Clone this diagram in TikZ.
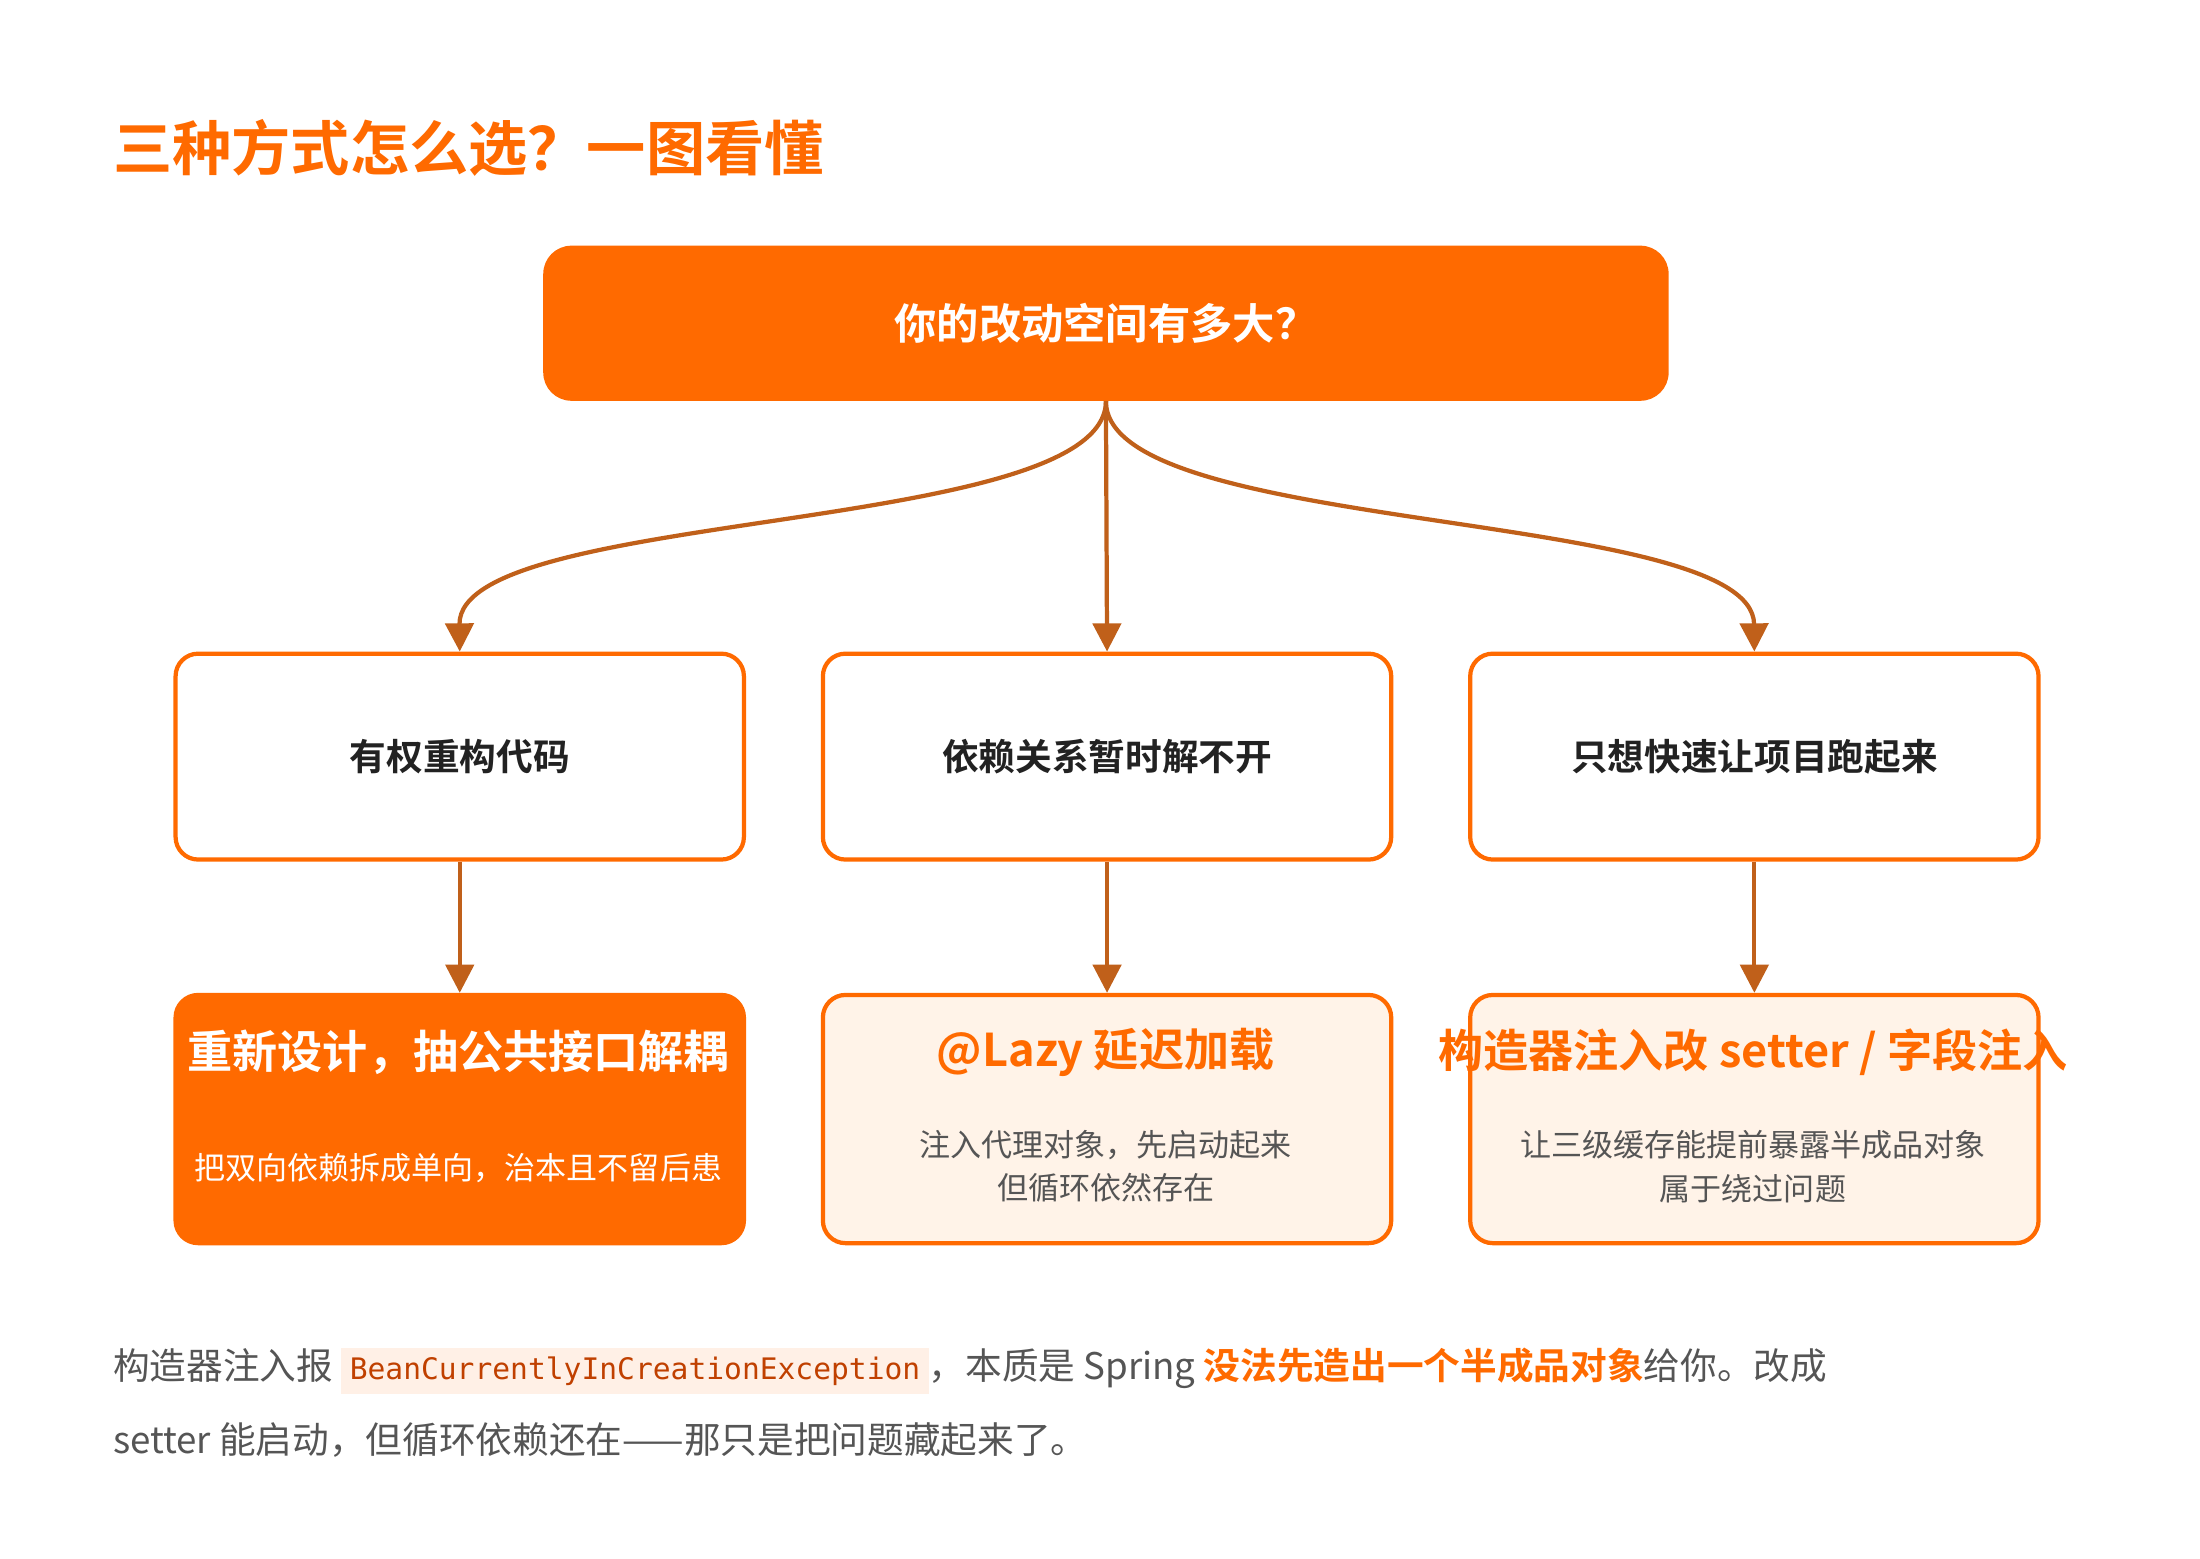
\documentclass[tikz,border=0pt]{standalone}
\usepackage{fontspec}
\setmainfont{Noto Sans CJK SC}
\newfontfamily\cjkb{Noto Sans CJK SC Bold}
\setmonofont{DejaVu Sans Mono}
\usetikzlibrary{arrows.meta}
\definecolor{org}{HTML}{FF6A00}
\definecolor{arr}{HTML}{C0601A}
\definecolor{pale}{HTML}{FFF3E8}
\definecolor{txt}{HTML}{222222}
\definecolor{gr}{HTML}{555555}
\definecolor{codebg}{HTML}{FFF0E6}
\definecolor{codefg}{HTML}{C04000}
\begin{document}
\begin{tikzpicture}[x=1pt,y=-1pt,
  mid/.style={draw=org,line width=3pt,fill=white,rounded corners=16pt,minimum width=403pt,minimum height=146pt,anchor=north west},
  bot/.style={draw=org,line width=3pt,rounded corners=16pt,minimum width=403pt,minimum height=176pt,anchor=north west},
  lbl/.style={font=\cjkb\fontsize{26}{30}\selectfont,text=txt},
  con/.style={draw=arr,line width=3pt,-{Triangle[length=20pt,width=20pt]}}]
\useasboundingbox (0,0) rectangle (1560,1105);
\fill[white] (0,0) rectangle (1560,1105);
\node[anchor=west,text=org,font=\cjkb\fontsize{42}{48}\selectfont,inner sep=0] (title) at (80,105) {三种方式怎么选？一图看懂};
\node[fill=org,rounded corners=20pt,minimum width=798pt,minimum height=110pt,anchor=north west,font=\cjkb\fontsize{30}{36}\selectfont,text=white] (top) at (385,174) {};
\node[font=\cjkb\fontsize{30}{36}\selectfont,text=white] at (top.center) {你的改动空间有多大？};
\node[mid] (m1) at (123,462) {}; \node[lbl] at (m1.center) {有权重构代码};
\node[mid] (m2) at (582,462) {}; \node[lbl] at (m2.center) {依赖关系暂时解不开};
\node[mid] (m3) at (1041,462) {}; \node[lbl] at (m3.center) {只想快速让项目跑起来};
\node[bot,fill=org] (b1) at (123,704) {};
\node[bot,fill=pale] (b2) at (582,704) {};
\node[bot,fill=pale] (b3) at (1041,704) {};
\node[text=white,font=\cjkb\fontsize{32}{38}\selectfont] at (325,746) {重新设计，抽公共接口解耦};
\node[text=white,font=\fontsize{22}{26}\selectfont] at (325,828) {把双向依赖拆成单向，治本且不留后患};
\node[text=org,font=\cjkb\fontsize{32}{38}\selectfont] at (784,746) {@Lazy 延迟加载};
\node[text=gr,font=\fontsize{22}{31}\selectfont,align=center] at (784,827) {注入代理对象，先启动起来\\但循环依然存在};
\node[text=org,font=\cjkb\fontsize{32}{38}\selectfont] at (1243,746) {构造器注入改 setter / 字段注入};
\node[text=gr,font=\fontsize{22}{31}\selectfont,align=center] at (1243,827) {让三级缓存能提前暴露半成品对象\\属于绕过问题};
\draw[con] (top.south) .. controls (784,380) and (325,360) .. (m1.north);
\draw[con] (top.south) -- (m2.north);
\draw[con] (top.south) .. controls (784,380) and (1243,360) .. (m3.north);
\draw[con] (m1.south) -- (b1.north);
\draw[con] (m2.south) -- (b2.north);
\draw[con] (m3.south) -- (b3.north);
\setlength\fboxsep{6pt}
\node[anchor=west,inner sep=0,text=gr,font=\fontsize{26}{30}\selectfont] (p1) at (80,972) {构造器注入报 \colorbox{codebg}{\textcolor{codefg}{\ttfamily\fontsize{21}{24}\selectfont BeanCurrentlyInCreationException}}，本质是 Spring {\cjkb\color{org}没法先造出一个半成品对象}给你。改成};
\node[anchor=west,inner sep=0,text=gr,font=\fontsize{26}{30}\selectfont] (p2) at (80,1021) {setter 能启动，但循环依赖还在——那只是把问题藏起来了。};
\end{tikzpicture}
\end{document}
